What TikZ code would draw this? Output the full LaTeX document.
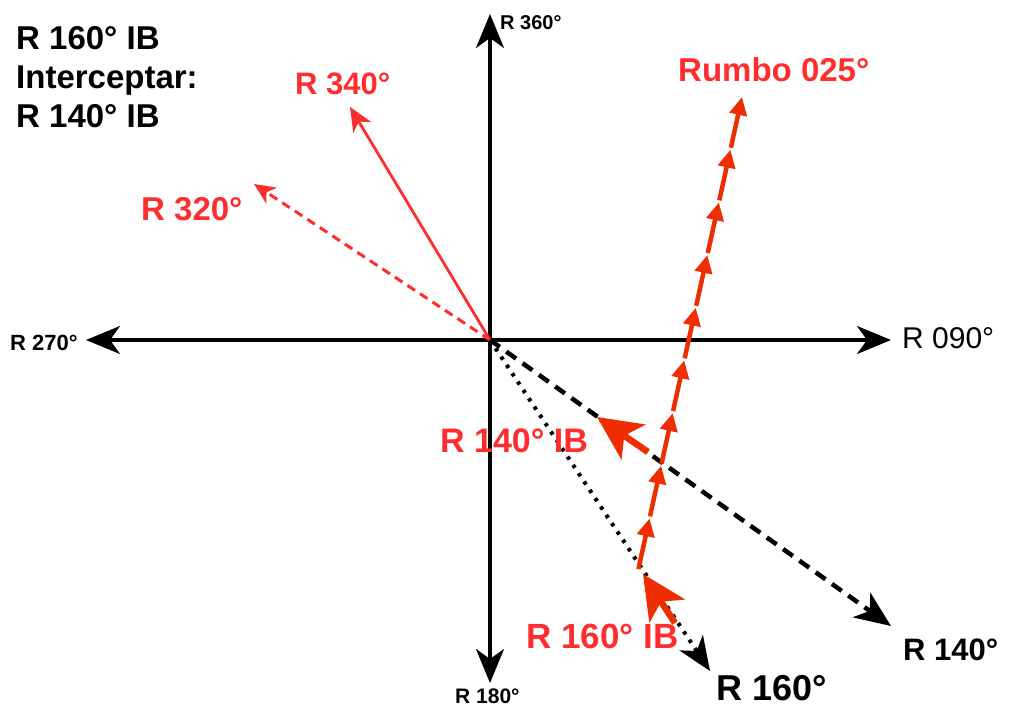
\documentclass[tikz,border=0pt]{standalone}
\usepackage{fontspec}
\setmainfont{Liberation Sans}
\usepackage{xcolor}
\usetikzlibrary{arrows.meta}
\usetikzlibrary{calc}
\definecolor{labred}{RGB}{255,45,45}
\definecolor{rumbored}{RGB}{238,45,0}

\tikzset{
  axisline/.style={line width=3.2pt,-{Stealth[length=34pt,width=28pt,inset=10pt]}},
  fs/.style={font=\bfseries\fontsize{#1}{#1}\selectfont,inner sep=0pt,anchor=base west},
  fsreg/.style={font=\fontsize{#1}{#1}\selectfont,inner sep=0pt,anchor=base west},
  ibarrow/.style={color=rumbored,line width=6.5pt,-{Stealth[length=44pt,width=42pt,inset=11pt]}},
}

\begin{document}
\begin{tikzpicture}[x=1pt,y=-1pt]
\useasboundingbox (0,0) rectangle (1016,706);
\def\nseg{9}

%axes
\coordinate (O) at (490,340);
\coordinate (N) at (490,14);
\coordinate (S) at (490,683);
\coordinate (W) at (86,340);
\coordinate (E) at (891,340);
\draw[axisline] (O) -- (N);
\draw[axisline] (O) -- (S);
\draw[axisline] (O) -- (W);
\draw[axisline] (O) -- (E);
\node[fs=20] (n360) at (500,30) {R 360°};
\node[fs=21] (n180) at (455,703) {R 180°};
\node[fs=22] (n270) at (10,350) {R 270°};
\node[fsreg=30] (n090) at (902,348) {R 090°};

%red bearings
\coordinate (T340) at (350,107);
\coordinate (T320) at (254,184);
\draw[labred,line width=2.8pt,-{Stealth[length=24pt,width=21pt,inset=7pt]}] (O) -- (T340);
\draw[labred,line width=3pt,dash pattern=on 9pt off 6pt,-{Stealth[length=21pt,width=19pt,inset=6pt]}] (O) -- (T320);
\node[fs=31,labred] (l340) at (295,95) {R 340°};
\node[fs=33,labred] (l320) at (141,220) {R 320°};

%black bearings
\coordinate (T140) at (891,626);
\coordinate (T160) at (710,671);
\draw[line width=4.5pt,dash pattern=on 12pt off 8pt,-{Stealth[length=36pt,width=30pt,inset=10pt]}] (O) -- (T140);
\draw[line width=4pt,dash pattern=on 3.5pt off 6.5pt,-{Stealth[length=34pt,width=28pt,inset=10pt]}] (O) -- (T160);
\node[fs=31] (l140) at (903,660) {R 140°};
\node[fs=36] (l160) at (716,700) {R 160°};

%rumbo 025
\coordinate (R0) at (638,571);
\coordinate (R1) at (742,97);
\foreach \i in {1,...,\nseg} {
  \draw[rumbored,line width=4.5pt,shorten <=2pt,-{Triangle[length=18pt,width=17pt]}]
    ($(R0)!{(\i-1)/\nseg}!(R1)$) -- ($(R0)!{\i/\nseg}!(R1)$);
}
\node[fs=33,labred] (lrumbo) at (678,82) {Rumbo 025°};

%interceptar
\coordinate (A140) at (648,452);
\coordinate (B140) at (597,417);
\coordinate (A160) at (675,623);
\coordinate (B160) at (643,574);
\draw[ibarrow] (A140) -- (B140);
\draw[ibarrow] (A160) -- (B160);
\node[fs=34,labred] (l140ib) at (440,452) {R 140° IB};
\node[fs=35,labred] (l160ib) at (526,648) {R 160° IB};

%notes
\node[fs=33] (t1) at (16,50) {R 160° IB};
\node[fs=33] (t2) at (16,89) {Interceptar:};
\node[fs=33] (t3) at (16,128) {R 140° IB};

\end{tikzpicture}
\end{document}
